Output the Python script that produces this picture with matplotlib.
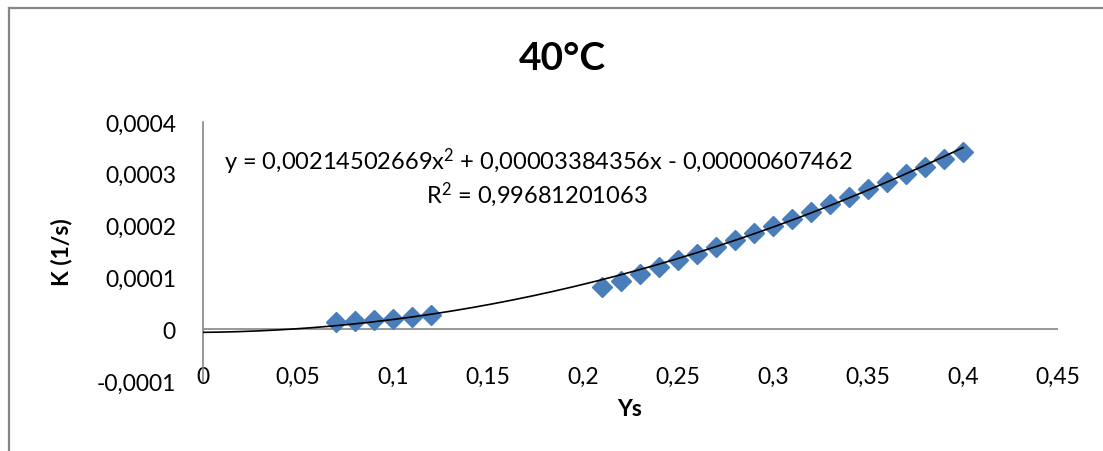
#!/usr/bin/env python3
# -*- coding: utf-8 -*-
"""
Constante de vitesse K en fonction de Ys a 40°C, avec courbe de tendance
polynomiale d'ordre 2 (style tableur, separateur decimal virgule).
"""

import numpy as np
import matplotlib
matplotlib.use("Agg")
import matplotlib.pyplot as plt
from matplotlib.lines import Line2D
from matplotlib.ticker import FuncFormatter, MultipleLocator

# ---------- Donnees -----------------------------------------------------------
ys = [0.07, 0.08, 0.09, 0.10, 0.11, 0.12,
      0.21, 0.22, 0.23, 0.24, 0.25, 0.26, 0.27, 0.28, 0.29, 0.30,
      0.31, 0.32, 0.33, 0.34, 0.35, 0.36, 0.37, 0.38, 0.39, 0.40]
k_values = [0.000013, 0.000015, 0.000017, 0.000020, 0.000024, 0.000028,
            0.000082, 0.000094, 0.000107, 0.000120, 0.000133, 0.000146,
            0.000159, 0.000173, 0.000186, 0.000199, 0.000213, 0.000227,
            0.000241, 0.000255, 0.000270, 0.000285, 0.000300, 0.000314,
            0.000328, 0.000342]

# coefficients de la tendance : y = a x^2 + b x + c
coef_a = 0.00214502669
coef_b = 0.00003384356
coef_c = -0.00000607462
r_squared = 0.99681201063

title = "40°C"
x_label = "Ys"
y_label = "K (1/s)"

FONT = "Lato"
W, H = 1103, 452
GREY = "#868686"
BLUE = "#4A7EBB"


def fx(px):
    return px / W


def fy(py):
    return 1 - py / H


def comma(v, pos=None):
    """Format tableur francais pour les graduations : 0,05 / -0,0001."""
    v = round(v, 8)
    if v == 0:
        return "0"
    return f"{v:g}".replace(".", ",")


def fmt_num(v, nd=11):
    return f"{abs(v):.{nd}f}".replace(".", ",")


plt.rcParams["font.family"] = [FONT, "DejaVu Sans"]
plt.rcParams["mathtext.fontset"] = "custom"
plt.rcParams["mathtext.rm"] = FONT
plt.rcParams["mathtext.it"] = FONT
plt.rcParams["mathtext.default"] = "regular"

fig = plt.figure(figsize=(W / 100, H / 100), dpi=100)
fig.patch.set_facecolor("white")

# cadre du graphique (bord gauche et bord haut)
fig.add_artist(Line2D([fx(9), fx(9)], [fy(9), 0], color=GREY, lw=1.6))
fig.add_artist(Line2D([fx(9), 1], [fy(9), fy(9)], color=GREY, lw=1.6))

ax = fig.add_axes([fx(203), fy(382), fx(1058 - 203), (382 - 123) / H])

# courbe de tendance (du 0 jusqu'au dernier point)
xt = np.linspace(0, max(ys), 300)
yt = coef_a * xt ** 2 + coef_b * xt + coef_c
ax.plot(xt, yt, color="black", lw=1.2, zorder=3)

ax.plot(ys, k_values, linestyle="none", marker="D", markersize=10.5,
        color=BLUE, markeredgecolor=BLUE, zorder=2)

ax.set_xlim(0, 0.45)
ax.set_ylim(-0.0001, 0.0004)
ax.xaxis.set_major_locator(MultipleLocator(0.05))
ax.yaxis.set_major_locator(MultipleLocator(0.0001))
ax.xaxis.set_major_formatter(FuncFormatter(comma))
ax.yaxis.set_major_formatter(FuncFormatter(comma))

for s in ("top", "right", "bottom"):
    ax.spines[s].set_visible(False)
ax.spines["left"].set_color(GREY)
ax.spines["left"].set_linewidth(1.2)
ax.axhline(0, color=GREY, lw=1.2, zorder=1)

ax.tick_params(axis="y", length=0, pad=19.5, labelsize=16.5)
ax.tick_params(axis="x", length=0, pad=-11, labelsize=16.5)

# textes
fig.text(fx(562), fy(58), title, ha="center", va="center",
         fontsize=28, fontweight="bold")
sign = "-" if coef_c < 0 else "+"
eq = (f"y = {fmt_num(coef_a)}x$^2$ + {fmt_num(coef_b)}x "
      f"{sign} {fmt_num(coef_c)}")
fig.text(fx(538), fy(162), eq, ha="center", va="center", fontsize=17)
fig.text(fx(537), fy(195), f"R$^2$ = {fmt_num(r_squared)}",
         ha="center", va="center", fontsize=17)
fig.text(fx(630), fy(410), x_label, ha="center", va="center",
         fontsize=16.5, fontweight="bold")
fig.text(fx(62), fy(252), y_label, ha="center", va="center", rotation=90,
         fontsize=16.5, fontweight="bold")

fig.savefig("out.png", dpi=100)
